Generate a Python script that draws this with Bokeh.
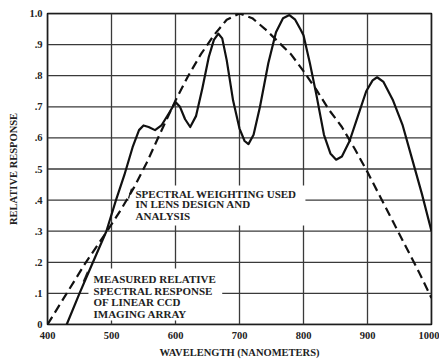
from bokeh.plotting import figure
from bokeh.models import Range1d, FixedTicker, CustomJSTickFormatter
from bokeh.core.properties import value
from bokeh.embed import file_html
from bokeh.resources import INLINE

# Measured relative spectral response of linear CCD imaging array (solid)
ccd_nm = [430, 450, 471, 492, 507, 520, 533, 543, 550, 558, 568, 578, 590, 600, 607, 615, 623,
          632, 642, 652, 660, 667, 673, 680, 690, 700, 708, 714, 722, 732, 745, 757, 768, 778,
          787, 795, 800, 810, 820, 832, 842, 851, 860, 872, 885, 898, 908, 915, 925, 940, 955,
          970, 985, 1000]
ccd_resp = [0.0, 0.1, 0.2, 0.3, 0.4, 0.48, 0.57, 0.625, 0.64, 0.635, 0.625, 0.64, 0.68, 0.715,
            0.70, 0.66, 0.635, 0.67, 0.76, 0.86, 0.915, 0.935, 0.92, 0.85, 0.72, 0.63, 0.59,
            0.58, 0.61, 0.70, 0.84, 0.94, 0.985, 0.995, 0.98, 0.95, 0.93, 0.84, 0.74, 0.61,
            0.55, 0.53, 0.54, 0.59, 0.67, 0.75, 0.785, 0.795, 0.78, 0.72, 0.64, 0.53, 0.42, 0.30]

# Spectral weighting used in lens design and analysis (dashed)
wt_nm = [400, 430, 460, 493, 515, 535, 555, 575, 600, 620, 640, 660, 680, 700, 720, 740, 760,
         780, 800, 820, 840, 860, 880, 900, 920, 940, 960, 980, 1000]
wt_resp = [0.0, 0.1, 0.2, 0.3, 0.37, 0.44, 0.52, 0.61, 0.72, 0.80, 0.87, 0.93, 0.98, 1.0, 0.985,
           0.95, 0.91, 0.87, 0.815, 0.755, 0.69, 0.635, 0.565, 0.49, 0.41, 0.33, 0.25, 0.17, 0.085]

x_ticks = [400, 500, 600, 700, 800, 900, 1000]
y_ticks = [0, 0.1, 0.2, 0.3, 0.4, 0.5, 0.6, 0.7, 0.8, 0.9, 1.0]

label_weight = ["SPECTRAL WEIGHTING USED", "IN LENS DESIGN AND", "ANALYSIS"]
label_ccd = ["MEASURED RELATIVE", "SPECTRAL RESPONSE", "OF LINEAR CCD", "IMAGING ARRAY"]

FONT = "Liberation Serif"
X0, X1 = 400, 1000
Y0, Y1 = 0.0, 1.0

p = figure(width=439, height=361, output_backend="svg", toolbar_location=None,
           x_range=Range1d(X0, X1), y_range=Range1d(Y0, Y1),
           min_border_left=47, min_border_right=8, min_border_top=13, min_border_bottom=37)

p.outline_line_color = "black"
p.outline_line_width = 1.6
p.grid.grid_line_color = None

# axes
p.xaxis.ticker = FixedTicker(ticks=x_ticks)
p.yaxis.ticker = FixedTicker(ticks=y_ticks)
p.yaxis.formatter = CustomJSTickFormatter(code="""
    if (tick < 0.001) return "0";
    if (tick > 0.999) return "1.0";
    return "." + Math.round(tick * 10);
""")
for ax in (p.xaxis, p.yaxis):
    ax.axis_line_color = None
    ax.major_tick_line_color = None
    ax.minor_tick_line_color = None
    ax.major_tick_out = 0
    ax.major_tick_in = 0
    ax.major_label_text_font = FONT
    ax.major_label_text_font_style = "bold"
    ax.major_label_text_font_size = "10.5px"
    ax.major_label_text_color = "#222222"
    ax.axis_label_text_font = FONT
    ax.axis_label_text_font_style = "bold"
    ax.axis_label_text_font_size = "10.5px"
    ax.axis_label_text_color = "#222222"

p.xaxis.axis_label = "WAVELENGTH (NANOMETERS)"
p.yaxis.axis_label = "RELATIVE RESPONSE"
p.xaxis.major_label_standoff = 7
p.xaxis.axis_label_standoff = 5
p.yaxis.major_label_standoff = 5
p.yaxis.axis_label_standoff = 7

# grid lines at the tick positions
grid_col = "#3a3a3a"
p.segment(x0=x_ticks, y0=[Y0] * len(x_ticks), x1=x_ticks, y1=[Y1] * len(x_ticks),
          line_color=grid_col, line_width=1.3)
p.segment(x0=[X0] * len(y_ticks), y0=y_ticks, x1=[X1] * len(y_ticks), y1=y_ticks,
          line_color=grid_col, line_width=1.3)

# white label boxes that hide the grid behind the text
p.quad(left=[526.6, 464.0], right=[803.0, 673.0], top=[0.447, 0.18], bottom=[0.318, 0.013],
       fill_color="white", line_color=None)

# label texts
p.text(x=[537.5] * 3, y=[0.421, 0.386, 0.350], text=label_weight,
       text_font=value(FONT), text_font_style="bold", text_font_size="11px",
       text_color="#222222", text_align="left", text_baseline="middle")
p.text(x=[471.9] * 4, y=[0.145, 0.109, 0.071, 0.035], text=label_ccd,
       text_font=value(FONT), text_font_style="bold", text_font_size="11px",
       text_color="#222222", text_align="left", text_baseline="middle")

# leader strokes
p.segment(x0=[526.6, 456.0], y0=[0.405, 0.138], x1=[531.3, 462.5], y1=[0.437, 0.170],
          line_color="#222222", line_width=1.3)

# curves
p.line(wt_nm, wt_resp, line_color="#111111", line_width=2.2, line_dash="9 5")
p.line(ccd_nm, ccd_resp, line_color="#111111", line_width=2.2, line_join="round")

open("out.html", "w").write(file_html(p, INLINE))
